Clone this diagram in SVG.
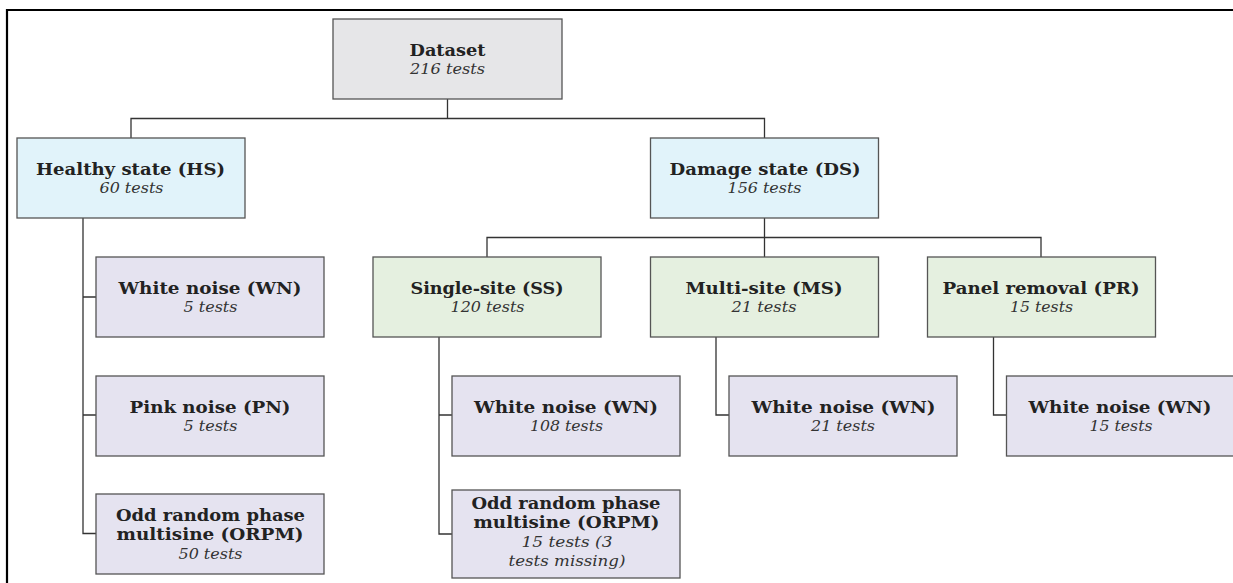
<svg xmlns="http://www.w3.org/2000/svg" width="1233" height="583" viewBox="0 0 1233 583">
<style>
.box{stroke:#555;stroke-width:1.3}
.root{fill:#e6e6e8}
.lvl1{fill:#e1f3fa}
.lvl2{fill:#e5f0e0}
.leaf{fill:#e5e3f0}
.t{font-family:"DejaVu Serif","Liberation Serif",serif;font-weight:bold;font-size:16px;fill:#222}
.s{font-family:"DejaVu Serif","Liberation Serif",serif;font-style:italic;font-size:14px;fill:#333}
.c{fill:none;stroke:#333;stroke-width:1.3}
</style>
<rect x="0" y="0" width="1233" height="583" fill="#fff"/>
<path d="M7,583 V10 H1233" fill="none" stroke="#000" stroke-width="2.2"/>
<g id="connectors" class="c">
<path d="M447.5,99 V118.5 M131,138 V118.5 H764.5 V138"/>
<path d="M83,218 V533.5 H96 M83,297 H96 M83,415 H96"/>
<path d="M764.5,218 V237.5 M487,257 V237.5 H1041 V257 M764.5,237.5 V257"/>
<path d="M439,337 V534 H452 M439,415 H452"/>
<path d="M716,337 V415 H729"/>
<path d="M993.5,337 V415 H1006"/>
</g>
<g id="dataset">
<rect class="box root" x="333" y="19" width="229" height="80"/>
<text class="t" x="409.5" y="56" textLength="76" lengthAdjust="spacingAndGlyphs">Dataset</text>
<text class="s" x="410" y="74" textLength="75" lengthAdjust="spacingAndGlyphs">216 tests</text>
</g>
<g id="hs">
<rect class="box lvl1" x="17" y="138" width="228" height="80"/>
<text class="t" x="36" y="175" textLength="189" lengthAdjust="spacingAndGlyphs">Healthy state (HS)</text>
<text class="s" x="99.5" y="193" textLength="64" lengthAdjust="spacingAndGlyphs">60 tests</text>
</g>
<g id="ds">
<rect class="box lvl1" x="650.5" y="138" width="228" height="80"/>
<text class="t" x="669.5" y="175" textLength="191" lengthAdjust="spacingAndGlyphs">Damage state (DS)</text>
<text class="s" x="727.5" y="193" textLength="74" lengthAdjust="spacingAndGlyphs">156 tests</text>
</g>
<g id="hs-wn">
<rect class="box leaf" x="96" y="257" width="228" height="80"/>
<text class="t" x="118.5" y="294" textLength="183" lengthAdjust="spacingAndGlyphs">White noise (WN)</text>
<text class="s" x="183.5" y="312" textLength="54" lengthAdjust="spacingAndGlyphs">5 tests</text>
</g>
<g id="hs-pn">
<rect class="box leaf" x="96" y="376" width="228" height="80"/>
<text class="t" x="129.5" y="413" textLength="161" lengthAdjust="spacingAndGlyphs">Pink noise (PN)</text>
<text class="s" x="183.5" y="431" textLength="54" lengthAdjust="spacingAndGlyphs">5 tests</text>
</g>
<g id="hs-orpm">
<rect class="box leaf" x="96" y="494" width="228" height="80"/>
<text class="t" x="116" y="521" textLength="189" lengthAdjust="spacingAndGlyphs">Odd random phase</text>
<text class="t" x="116.5" y="540" textLength="187" lengthAdjust="spacingAndGlyphs">multisine (ORPM)</text>
<text class="s" x="178.5" y="559" textLength="64" lengthAdjust="spacingAndGlyphs">50 tests</text>
</g>
<g id="ss">
<rect class="box lvl2" x="373" y="257" width="228" height="80"/>
<text class="t" x="410.5" y="294" textLength="153" lengthAdjust="spacingAndGlyphs">Single-site (SS)</text>
<text class="s" x="450.5" y="312" textLength="74" lengthAdjust="spacingAndGlyphs">120 tests</text>
</g>
<g id="ms">
<rect class="box lvl2" x="650.5" y="257" width="228" height="80"/>
<text class="t" x="685.5" y="294" textLength="157" lengthAdjust="spacingAndGlyphs">Multi-site (MS)</text>
<text class="s" x="731.5" y="312" textLength="65" lengthAdjust="spacingAndGlyphs">21 tests</text>
</g>
<g id="pr">
<rect class="box lvl2" x="927.5" y="257" width="228" height="80"/>
<text class="t" x="942.5" y="294" textLength="197" lengthAdjust="spacingAndGlyphs">Panel removal (PR)</text>
<text class="s" x="1010" y="312" textLength="63" lengthAdjust="spacingAndGlyphs">15 tests</text>
</g>
<g id="ss-wn">
<rect class="box leaf" x="452" y="376" width="228" height="80"/>
<text class="t" x="474" y="413" textLength="184" lengthAdjust="spacingAndGlyphs">White noise (WN)</text>
<text class="s" x="530" y="431" textLength="73" lengthAdjust="spacingAndGlyphs">108 tests</text>
</g>
<g id="ss-orpm">
<rect class="box leaf" x="452" y="490" width="228" height="88"/>
<text class="t" x="471.5" y="508.5" textLength="189" lengthAdjust="spacingAndGlyphs">Odd random phase</text>
<text class="t" x="473.5" y="527.5" textLength="186" lengthAdjust="spacingAndGlyphs">multisine (ORPM)</text>
<text class="s" x="521.5" y="547" textLength="91" lengthAdjust="spacingAndGlyphs">15 tests (3</text>
<text class="s" x="508.5" y="566" textLength="117" lengthAdjust="spacingAndGlyphs">tests missing)</text>
</g>
<g id="ms-wn">
<rect class="box leaf" x="729" y="376" width="228" height="80"/>
<text class="t" x="751.5" y="413" textLength="184" lengthAdjust="spacingAndGlyphs">White noise (WN)</text>
<text class="s" x="811" y="431" textLength="64" lengthAdjust="spacingAndGlyphs">21 tests</text>
</g>
<g id="pr-wn">
<rect class="box leaf" x="1006.5" y="376" width="228" height="80"/>
<text class="t" x="1028.5" y="413" textLength="183" lengthAdjust="spacingAndGlyphs">White noise (WN)</text>
<text class="s" x="1089.5" y="431" textLength="63" lengthAdjust="spacingAndGlyphs">15 tests</text>
</g>
</svg>
